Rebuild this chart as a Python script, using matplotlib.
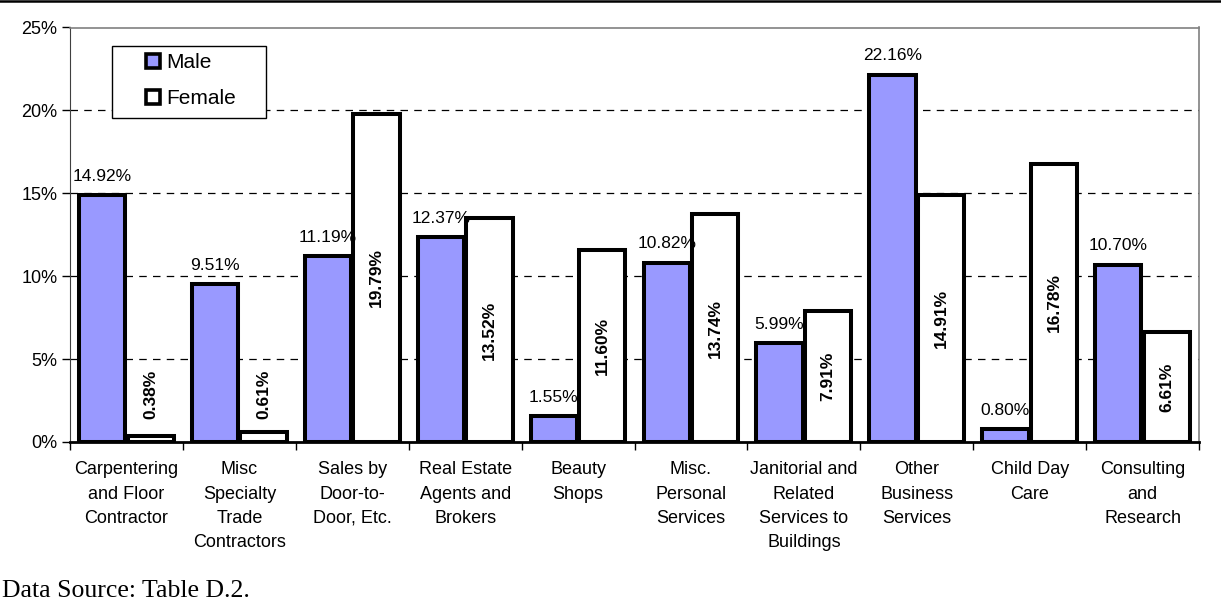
import numpy as np
import matplotlib
matplotlib.use("Agg")
import matplotlib.pyplot as plt
import matplotlib.ticker as ticker
from matplotlib.lines import Line2D
from matplotlib.patches import Rectangle

# ---------------------------------------------------------------------------
# Data
# ---------------------------------------------------------------------------
categories = [
    "Carpentering\nand Floor\nContractor",
    "Misc\nSpecialty\nTrade\nContractors",
    "Sales by\nDoor-to-\nDoor, Etc.",
    "Real Estate\nAgents and\nBrokers",
    "Beauty\nShops",
    "Misc.\nPersonal\nServices",
    "Janitorial and\nRelated\nServices to\nBuildings",
    "Other\nBusiness\nServices",
    "Child Day\nCare",
    "Consulting\nand\nResearch",
]
male = [14.92, 9.51, 11.19, 12.37, 1.55, 10.82, 5.99, 22.16, 0.80, 10.70]
female = [0.38, 0.61, 19.79, 13.52, 11.60, 13.74, 7.91, 14.91, 16.78, 6.61]
y_ticks = [0, 5, 10, 15, 20, 25]

MALE_COLOR = "#9999FF"
SANS = ["Liberation Sans", "Arial", "DejaVu Sans"]
SERIF = ["Liberation Serif", "Times New Roman", "DejaVu Serif"]

plt.rcParams["font.family"] = SANS

W, H = 1221, 602
fig = plt.figure(figsize=(W / 100, H / 100), dpi=100)
ax = fig.add_axes([70 / W, 1 - 442 / H, 1129 / W, 414.5 / H])

x = np.arange(len(categories))
w = 0.41
off = 0.215
lw = 2.9

ax.bar(x - off, male, w, color=MALE_COLOR, edgecolor="black", linewidth=lw,
       joinstyle="miter", zorder=3)
ax.bar(x + off, female, w, color="white", edgecolor="black", linewidth=lw,
       joinstyle="miter", zorder=3)

# value labels: male above the bar, female rotated inside
for xi, v in zip(x, male):
    ax.annotate(f"{v:.2f}%", (xi - off, v), xytext=(0, 8), textcoords="offset points",
                ha="center", va="bottom", fontsize=12.5, zorder=5)
for xi, v in zip(x, female):
    ax.text(xi + off, max(v / 2, 2.85), f"{v:.2f}%", rotation=90, ha="center",
            va="center", fontsize=12.5, fontweight="bold", zorder=5)

# axes styling
ax.set_xlim(-0.5, len(categories) - 0.5)
ax.set_ylim(0, 25)
ax.set_yticks(y_ticks)
ax.yaxis.set_major_formatter(ticker.FuncFormatter(lambda v, p: f"{v:.0f}%"))
ax.tick_params(axis="y", labelsize=13, length=6, width=1, direction="out", pad=3)

ax.set_xticks(x)
ax.set_xticklabels(categories, fontsize=13, linespacing=1.55, va="top")
ax.tick_params(axis="x", which="major", length=0, pad=14)
ax.set_xticks(np.arange(-0.5, len(categories)), minor=True)
ax.tick_params(axis="x", which="minor", length=6, width=1, direction="out")

for yv in y_ticks[1:-1]:
    ax.axhline(yv, color="black", linewidth=0.9, linestyle=(0, (6, 5)), zorder=1)

ax.spines["top"].set_color("#808080")
ax.spines["right"].set_color("#808080")
ax.spines["top"].set_linewidth(1.2)
ax.spines["right"].set_linewidth(1.2)
ax.spines["left"].set_color("#404040")
ax.spines["bottom"].set_linewidth(2)
ax.spines["bottom"].set_zorder(4)

# legend (frame drawn separately, it is wider than its content)
handles = [
    Line2D([], [], marker="s", linestyle="none", markersize=10, markerfacecolor=MALE_COLOR,
           markeredgecolor="black", markeredgewidth=2.6),
    Line2D([], [], marker="s", linestyle="none", markersize=10, markerfacecolor="white",
           markeredgecolor="black", markeredgewidth=2.6),
]
leg = ax.legend(handles, ["Male", "Female"], loc="upper left",
                bbox_to_anchor=(140 / W, 1 - 53 / H), bbox_transform=fig.transFigure,
                fontsize=15, frameon=False, borderpad=0, handletextpad=0.05,
                handlelength=1.2, labelspacing=0.82, borderaxespad=0)
leg.set_zorder(7)
ax.add_patch(Rectangle((112 / W, 1 - 118 / H), 154 / W, 72 / H,
                       transform=fig.transFigure, facecolor="white",
                       edgecolor="black", linewidth=1, zorder=6, clip_on=False))

# figure decorations
fig.add_artist(Line2D([0, 1], [1 - 1 / H, 1 - 1 / H], color="black", linewidth=1.8,
                      transform=fig.transFigure))
fig.text(2 / W, 1 - 597 / H, "Data Source: Table D.2.", family=SERIF,
         fontsize=18.5, ha="left", va="baseline")

fig.savefig("out.png", dpi=100)
